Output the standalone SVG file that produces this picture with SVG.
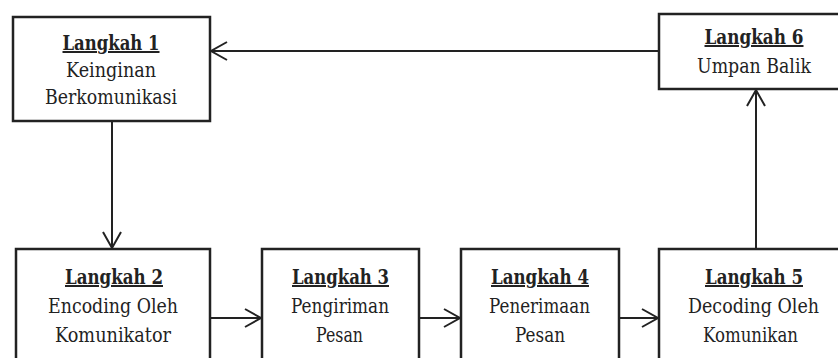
<svg xmlns="http://www.w3.org/2000/svg" width="838" height="358" viewBox="0 0 838 358">
<style>
.box{fill:#fff;stroke:#222;stroke-width:2.5}
text{font-family:'DejaVu Serif','Liberation Serif',serif;font-size:20px;fill:#222;text-anchor:middle}
.h{font-weight:bold;text-decoration:underline}
.c{stroke:#222;stroke-width:2;fill:none}
</style>
<defs>
<marker id="ah" markerUnits="userSpaceOnUse" markerWidth="20" markerHeight="22" refX="17" refY="10" orient="auto" viewBox="0 0 20 22">
<path d="M1,1 L17,10 L1,19" fill="none" stroke="#222" stroke-width="2"/>
</marker>
</defs>
<rect width="838" height="358" fill="#fff"/>
<g id="connectors">
<line class="c" x1="112" y1="121" x2="112" y2="248" marker-end="url(#ah)"/>
<line class="c" x1="210" y1="318" x2="261" y2="318" marker-end="url(#ah)"/>
<line class="c" x1="419" y1="318" x2="460" y2="318" marker-end="url(#ah)"/>
<line class="c" x1="619" y1="318" x2="658" y2="318" marker-end="url(#ah)"/>
<line class="c" x1="756" y1="249" x2="756" y2="90" marker-end="url(#ah)"/>
<line class="c" x1="659" y1="51" x2="211" y2="51" marker-end="url(#ah)"/>
</g>
<g id="node1">
<rect class="box" x="13" y="17" width="197" height="104"/>
<text class="h" x="111" y="50" textLength="97" lengthAdjust="spacingAndGlyphs">Langkah 1</text>
<text x="111" y="77" textLength="90" lengthAdjust="spacingAndGlyphs">Keinginan</text>
<text x="111" y="104" textLength="132" lengthAdjust="spacingAndGlyphs">Berkomunikasi</text>
</g>
<g id="node6">
<rect class="box" x="659" y="14" width="190" height="75"/>
<text class="h" x="754" y="44" textLength="99" lengthAdjust="spacingAndGlyphs">Langkah 6</text>
<text x="754" y="73" textLength="114" lengthAdjust="spacingAndGlyphs">Umpan Balik</text>
</g>
<g id="node2">
<rect class="box" x="16" y="249" width="194" height="120"/>
<text class="h" x="114" y="284" textLength="98" lengthAdjust="spacingAndGlyphs">Langkah 2</text>
<text x="113" y="313" textLength="130" lengthAdjust="spacingAndGlyphs">Encoding Oleh</text>
<text x="113" y="342" textLength="116" lengthAdjust="spacingAndGlyphs">Komunikator</text>
</g>
<g id="node3">
<rect class="box" x="262" y="249" width="157" height="120"/>
<text class="h" x="340.5" y="284" textLength="97" lengthAdjust="spacingAndGlyphs">Langkah 3</text>
<text x="340" y="313" textLength="98" lengthAdjust="spacingAndGlyphs">Pengiriman</text>
<text x="339.5" y="342" textLength="47" lengthAdjust="spacingAndGlyphs">Pesan</text>
</g>
<g id="node4">
<rect class="box" x="461" y="249" width="158" height="120"/>
<text class="h" x="540" y="284" textLength="98" lengthAdjust="spacingAndGlyphs">Langkah 4</text>
<text x="539.5" y="313" textLength="101" lengthAdjust="spacingAndGlyphs">Penerimaan</text>
<text x="540" y="342" textLength="50" lengthAdjust="spacingAndGlyphs">Pesan</text>
</g>
<g id="node5">
<rect class="box" x="659" y="249" width="190" height="120"/>
<text class="h" x="754" y="284" textLength="98" lengthAdjust="spacingAndGlyphs">Langkah 5</text>
<text x="753.5" y="313" textLength="131" lengthAdjust="spacingAndGlyphs">Decoding Oleh</text>
<text x="750.5" y="342" textLength="95" lengthAdjust="spacingAndGlyphs">Komunikan</text>
</g>
</svg>
